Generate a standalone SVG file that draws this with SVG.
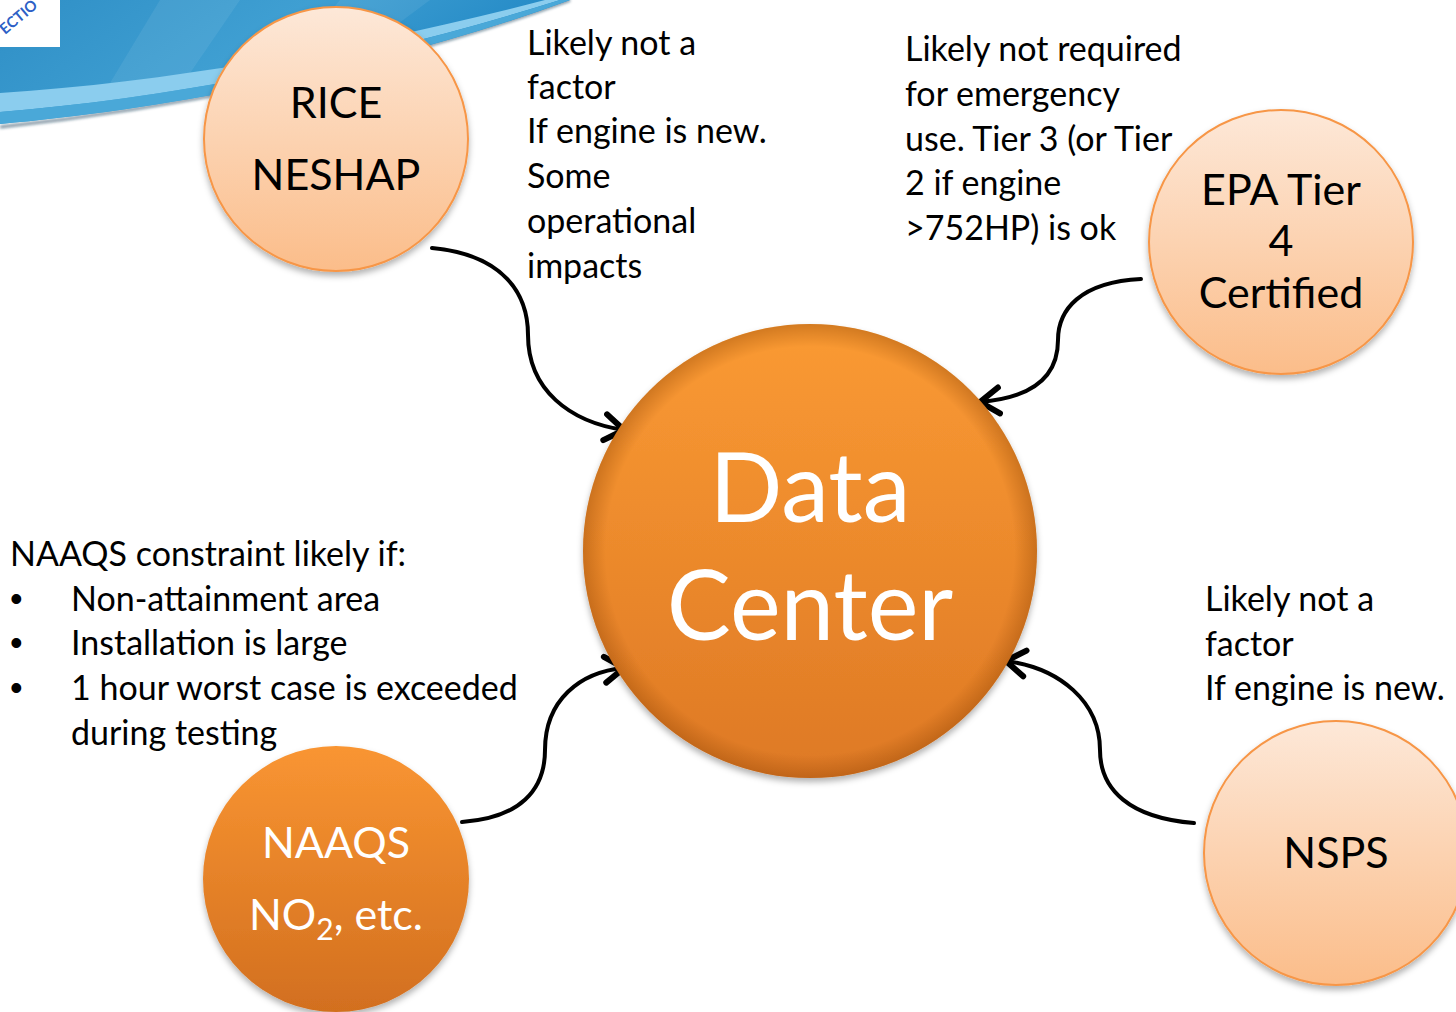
<svg xmlns="http://www.w3.org/2000/svg" width="1456" height="1012" viewBox="0 0 1456 1012">
  <defs>
    <linearGradient id="peach" x1="0" y1="0" x2="0" y2="1">
      <stop offset="0" stop-color="#fde8d8"/>
      <stop offset="1" stop-color="#fbbd8a"/>
    </linearGradient>
    <linearGradient id="orange" x1="0" y1="0" x2="0" y2="1">
      <stop offset="0" stop-color="#fa9a33"/>
      <stop offset="1" stop-color="#de7925"/>
    </linearGradient>
    <linearGradient id="orange2" x1="0" y1="0" x2="0" y2="1">
      <stop offset="0" stop-color="#f99532"/>
      <stop offset="1" stop-color="#d26f1f"/>
    </linearGradient>
    <radialGradient id="bevel" cx="0.5" cy="0.5" r="0.5">
      <stop offset="0.9" stop-color="#8a4000" stop-opacity="0"/>
      <stop offset="1" stop-color="#8a4000" stop-opacity="0.35"/>
    </radialGradient>
    <linearGradient id="sky" x1="0" y1="0" x2="1" y2="0.3">
      <stop offset="0" stop-color="#2f8fc6"/>
      <stop offset="0.5" stop-color="#3f9fd2"/>
      <stop offset="1" stop-color="#1f86c4"/>
    </linearGradient>
    <filter id="shadow" x="-20%" y="-20%" width="140%" height="150%">
      <feDropShadow dx="0" dy="4" stdDeviation="3" flood-color="#000" flood-opacity="0.3"/>
    </filter>
    <filter id="blur1" x="-5%" y="-50%" width="110%" height="200%">
      <feGaussianBlur stdDeviation="1.5"/>
    </filter>
    <marker id="chev" viewBox="-24 -17 28 34" markerWidth="28" markerHeight="34" refX="0" refY="0" orient="auto" markerUnits="userSpaceOnUse">
      <path d="M-19,-13 L0,0 L-19,13" fill="none" stroke="#000" stroke-width="6" stroke-linecap="round" stroke-linejoin="round"/>
    </marker>
    <style>
      .txt { font-family: Lato, "Liberation Sans", sans-serif; font-size: 34px; fill: #000; }
      .bul { font-family: "Liberation Sans", sans-serif; font-size: 36px; fill: #000; }
      .lbl { font-family: Lato, "Liberation Sans", sans-serif; font-size: 43px; text-anchor: middle; fill: #000; }
      .lblw { font-family: Lato, "Liberation Sans", sans-serif; font-size: 43px; text-anchor: middle; fill: #fff; }
      .big { font-family: Lato, "Liberation Sans", sans-serif; font-size: 96px; text-anchor: middle; fill: #fff; }
      .pc { fill: url(#peach); stroke: #f79646; stroke-width: 2; filter: url(#shadow); }
      .conn { fill: none; stroke: #000; stroke-width: 4; stroke-linecap: round; marker-end: url(#chev); }
    </style>
  </defs>

  <rect width="1456" height="1012" fill="#fff"/>

  <!-- banner swoosh -->
  <g id="banner">
    <path d="M0,127 C160,110 380,70 570,0" fill="none" stroke="#0e3550" stroke-width="3" opacity="0.55" filter="url(#blur1)"/>
    <path d="M0,0 L570,0 C380,70 160,110 0,124 Z" fill="url(#sky)"/>
    <path d="M160,0 L240,0 L175,95 L95,108 Z" fill="#ffffff" opacity="0.07"/>
    <path d="M340,0 L430,0 L360,52 L280,72 Z" fill="#ffffff" opacity="0.07"/>
    <path d="M0,93 C170,82 360,48 545,0 L560,0 C370,60 170,98 0,112 Z" fill="#8bcdee"/>
    <path d="M0,112 C170,98 370,60 560,0 L570,0 C380,70 160,110 0,124 Z" fill="#4aa8d8"/>
    <rect x="0" y="0" width="60" height="47" fill="#fff"/>
    <text x="5" y="35" transform="rotate(-40 5 35)" font-family="Lato, 'Liberation Sans', sans-serif" font-size="15" font-weight="bold" fill="#2d5fc6">ECTIO</text>
  </g>

  <!-- connectors -->
  <g id="connectors">
    <path class="conn" d="M432,248 C505,255 528,295 528,335 C528,390 570,422 624,430"/>
    <path class="conn" d="M1141,279 C1080,282 1058,310 1058,340 C1058,378 1030,398 980,402"/>
    <path class="conn" d="M462,822 C520,818 545,790 545,750 C545,700 580,672 624,668"/>
    <path class="conn" d="M1194,823 C1130,818 1100,790 1100,750 C1100,702 1060,668 1006,661"/>
  </g>

  <!-- nodes -->
  <g id="data-center">
    <circle cx="810" cy="551" r="227" fill="url(#orange)" filter="url(#shadow)"/>
    <circle cx="810" cy="551" r="227" fill="url(#bevel)"/>
    <text class="big" x="810" y="522">Data</text>
    <text class="big" x="810" y="640">Center</text>
  </g>

  <g id="rice-neshap">
    <circle class="pc" cx="336" cy="139" r="132"/>
    <text class="lbl" x="336" y="118">RICE</text>
    <text class="lbl" x="336" y="190">NESHAP</text>
  </g>

  <g id="epa-tier4">
    <circle class="pc" cx="1281" cy="242" r="132"/>
    <text class="lbl" x="1281" y="205">EPA Tier</text>
    <text class="lbl" x="1281" y="256">4</text>
    <text class="lbl" x="1281" y="308">Certified</text>
  </g>

  <g id="nsps">
    <circle class="pc" cx="1336" cy="853" r="132"/>
    <text class="lbl" x="1336" y="868">NSPS</text>
  </g>

  <g id="naaqs">
    <circle cx="336" cy="879" r="133" fill="url(#orange2)" filter="url(#shadow)"/>
    <text class="lblw" x="336" y="858">NAAQS</text>
    <text class="lblw" x="336" y="930">NO<tspan font-size="30" dy="10">2</tspan><tspan dy="-10">, etc.</tspan></text>
  </g>

  <!-- annotation texts -->
  <g id="note-rice">
    <text class="txt" x="527" y="55">Likely not a</text>
    <text class="txt" x="527" y="99">factor</text>
    <text class="txt" x="527" y="143">If engine is new.</text>
    <text class="txt" x="527" y="188">Some</text>
    <text class="txt" x="527" y="233">operational</text>
    <text class="txt" x="527" y="278">impacts</text>
  </g>

  <g id="note-epa">
    <text class="txt" x="905" y="61">Likely not required</text>
    <text class="txt" x="905" y="106">for emergency</text>
    <text class="txt" x="905" y="151">use. Tier 3 (or Tier</text>
    <text class="txt" x="905" y="195">2 if engine</text>
    <text class="txt" x="905" y="240">&gt;752HP) is ok</text>
  </g>

  <g id="note-naaqs">
    <text class="txt" x="10" y="566">NAAQS constraint likely if:</text>
    <text class="bul" x="10" y="611">•</text>
    <text class="txt" x="71" y="611">Non-attainment area</text>
    <text class="bul" x="10" y="655">•</text>
    <text class="txt" x="71" y="655">Installation is large</text>
    <text class="bul" x="10" y="700">•</text>
    <text class="txt" x="71" y="700">1 hour worst case is exceeded</text>
    <text class="txt" x="71" y="745">during testing</text>
  </g>

  <g id="note-nsps">
    <text class="txt" x="1205" y="611">Likely not a</text>
    <text class="txt" x="1205" y="656">factor</text>
    <text class="txt" x="1205" y="700">If engine is new.</text>
  </g>
</svg>
